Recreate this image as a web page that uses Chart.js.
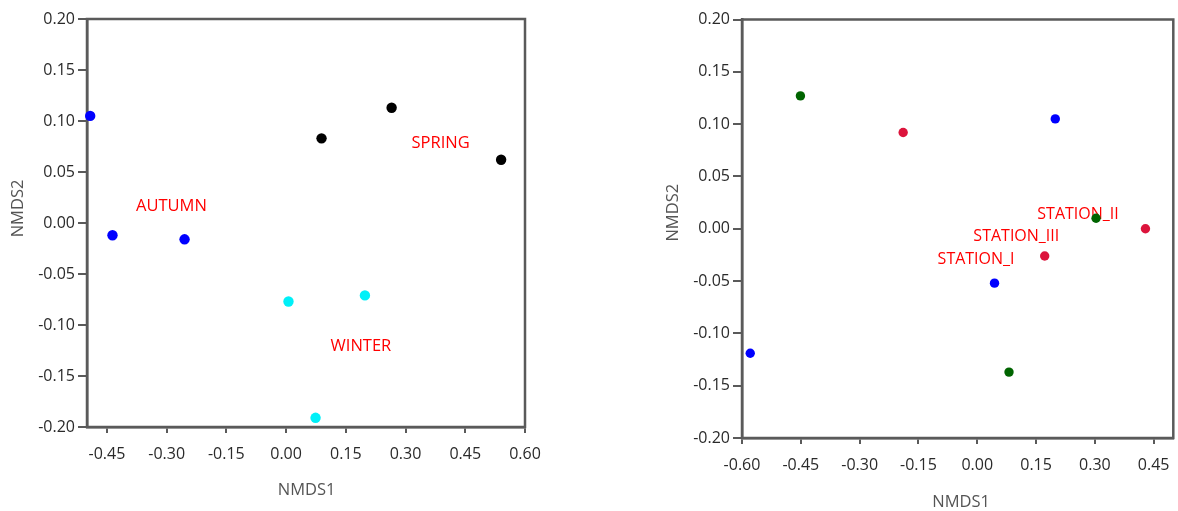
<!DOCTYPE html>
<html><head><meta charset="utf-8">
<script src="https://cdn.jsdelivr.net/npm/chart.js@4"></script>
<style>
html,body{margin:0;padding:0;background:#fff;width:1178px;height:511px;overflow:hidden;}
#c1{position:absolute;left:0;top:0;}
#c2{position:absolute;left:655px;top:0;}
</style></head><body>
<canvas id="c1" width="545" height="511"></canvas>
<canvas id="c2" width="523" height="511"></canvas>
<script>
// ---- tick labels ----
const yTicks = [-0.20, -0.15, -0.10, -0.05, 0.00, 0.05, 0.10, 0.15, 0.20];
const xTicksSeason = [-0.45, -0.30, -0.15, 0.00, 0.15, 0.30, 0.45, 0.60];
const xTicksStation = [-0.60, -0.45, -0.30, -0.15, 0.00, 0.15, 0.30, 0.45];

// ---- left panel: seasons ----
const autumnX = [-0.492, -0.436, -0.255];
const autumnY = [0.105, -0.012, -0.016];
const springX = [0.089, 0.265, 0.540];
const springY = [0.083, 0.113, 0.062];
const winterX = [0.006, 0.198, 0.074];
const winterY = [-0.077, -0.071, -0.191];
const seasonLabels = ['AUTUMN', 'SPRING', 'WINTER'];
const seasonLabelX = [-0.288, 0.388, 0.188];
const seasonLabelY = [0.018, 0.079, -0.120];

// ---- right panel: stations ----
const station1X = [0.199, 0.044, -0.579];
const station1Y = [0.105, -0.052, -0.119];
const station2X = [-0.451, 0.303, 0.081];
const station2Y = [0.127, 0.010, -0.137];
const station3X = [-0.189, 0.429, 0.172];
const station3Y = [0.092, 0.000, -0.026];
const stationLabels = ['STATION_II', 'STATION_III', 'STATION_I'];
const stationLabelX = [0.257, 0.0996, -0.003];
const stationLabelY = [0.0147, -0.006, -0.028];

const pts = (xs, ys) => xs.map((x, i) => ({x, y: ys[i]}));
const FRAME = '#5a5a5a';
const FONT = '"Open Sans", "Noto Sans", sans-serif';

const panelPlugin = {
  id: 'panel',
  beforeDatasetsDraw(chart, args, o) {
    const {ctx, chartArea: a} = chart;
    const xs = chart.scales.x, ys = chart.scales.y;
    ctx.save();
    ctx.strokeStyle = FRAME; ctx.lineWidth = 2.5;
    ctx.strokeRect(a.left, a.top, a.right - a.left, a.bottom - a.top);
    ctx.fillStyle = '#ff0000';
    ctx.font = o.labelSize + 'px ' + FONT;
    ctx.textAlign = 'center'; ctx.textBaseline = 'alphabetic';
    o.labels.forEach((t, i) => {
      ctx.fillText(t, xs.getPixelForValue(o.labelX[i]), ys.getPixelForValue(o.labelY[i]) + 0.357 * o.labelSize);
    });
    ctx.restore();
  },
  afterDraw(chart, args, o) {
    const {ctx, chartArea: a} = chart;
    ctx.save();
    ctx.fillStyle = '#555';
    ctx.font = '16.5px ' + FONT;
    ctx.textAlign = 'center'; ctx.textBaseline = 'middle';
    ctx.fillText(o.xTitle, (a.left + a.right) / 2 + o.xTitleDx, o.xTitleY);
    ctx.translate(o.yTitleX, (a.top + a.bottom) / 2 + o.yTitleDy);
    ctx.rotate(-Math.PI / 2);
    ctx.fillText(o.yTitle, 0, 0);
    ctx.restore();
  }
};

function makeChart(id, datasets, xTicks, xMin, xMax, yMin, yMax, padTop, padRight, xHeight, xTickLen, panelOpts) {
  return new Chart(document.getElementById(id), {
    type: 'scatter',
    data: {datasets},
    options: {
      responsive: false, animation: false, devicePixelRatio: 1,
      layout: {padding: {top: padTop, right: padRight, left: 0, bottom: 0}},
      plugins: {legend: {display: false}, tooltip: {enabled: false}, panel: panelOpts},
      scales: {
        x: {
          type: 'linear', min: xMin, max: xMax,
          afterBuildTicks: s => { s.ticks = xTicks.map(v => ({value: v})); },
          afterFit: s => { s.height = xHeight; s.paddingLeft = 0; s.paddingRight = 0; },
          ticks: {callback: v => Number(v).toFixed(2), color: '#2a2a2a', font: {family: FONT, size: 16}, padding: 12, maxRotation: 0, autoSkip: false},
          grid: {display: true, drawOnChartArea: false, drawTicks: true, tickLength: xTickLen, color: FRAME, lineWidth: 2},
          border: {display: true, color: FRAME, width: 2.5}
        },
        y: {
          type: 'linear', min: yMin, max: yMax,
          afterBuildTicks: s => { s.ticks = yTicks.map(v => ({value: v})); },
          afterFit: s => { s.width = 87; s.paddingTop = 0; s.paddingBottom = 0; },
          ticks: {callback: v => Number(v).toFixed(2), color: '#2a2a2a', font: {family: FONT, size: 16}, padding: 3, autoSkip: false},
          grid: {display: true, drawOnChartArea: false, drawTicks: true, tickLength: 9, color: FRAME, lineWidth: 2},
          border: {display: true, color: FRAME, width: 2.5}
        }
      }
    },
    plugins: [panelPlugin]
  });
}

const ds = (data, color, r) => ({data, backgroundColor: color, borderWidth: 0, pointRadius: r, clip: false});

makeChart('c1', [
  ds(pts(autumnX, autumnY), '#0000ff', 5.2),
  ds(pts(springX, springY), '#000000', 5.2),
  ds(pts(winterX, winterY), '#00f0f8', 5.2)
], xTicksSeason, -0.5, 0.6, -0.2, 0.2, 19, 20, 84, 6, {
  labels: seasonLabels, labelX: seasonLabelX, labelY: seasonLabelY, labelSize: 16.5,
  xTitle: 'NMDS1', xTitleDx: 0.7, xTitleY: 490, yTitle: 'NMDS2', yTitleX: 18, yTitleDy: -14.5
});

makeChart('c2', [
  ds(pts(station1X, station1Y), '#0000ff', 4.7),
  ds(pts(station2X, station2Y), '#006400', 4.7),
  ds(pts(station3X, station3Y), '#dc143c', 4.7)
], xTicksStation, -0.6, 0.5, -0.2, 0.2, 19.5, 1, 73, 6, {
  labels: stationLabels, labelX: stationLabelX, labelY: stationLabelY, labelSize: 16,
  xTitle: 'NMDS1', xTitleDx: 3.5, xTitleY: 502, yTitle: 'NMDS2', yTitleX: 18, yTitleDy: -16
});
</script>
</body></html>
